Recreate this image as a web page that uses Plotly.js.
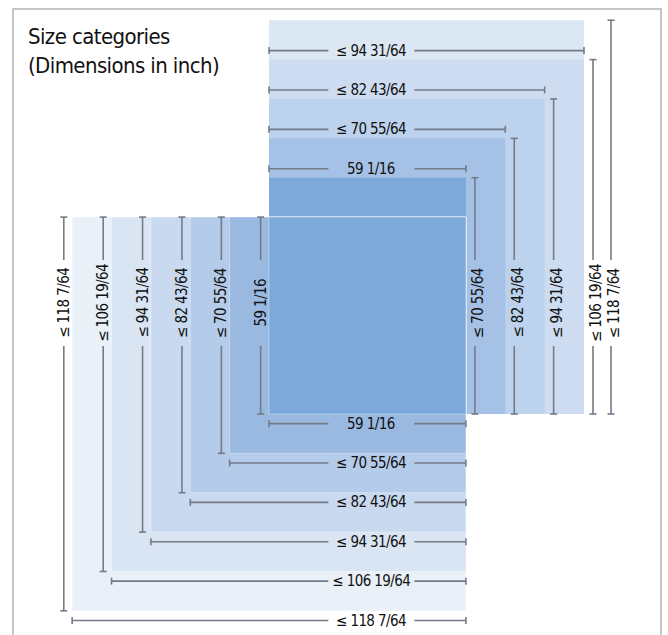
<!DOCTYPE html>
<html><head><meta charset="utf-8">
<script src="https://cdn.plot.ly/plotly-3.0.1.min.js"></script>
<style>
html,body{margin:0;padding:0;background:#fff}
#chart{width:668px;height:635px}
#chart text{font-stretch:condensed !important; letter-spacing:-0.6px;}
</style>
</head><body><div id="chart"></div>
<script>
// Size categories (inches)
const sizeLabels = ["59 1/16", "≤ 70 55/64", "≤ 82 43/64", "≤ 94 31/64", "≤ 106 19/64", "≤ 118 7/64"];
const sizeValues = [59.0625, 70.859375, 82.671875, 94.484375, 106.296875, 118.109375];
// Upper-right group: rectangles (width category index, height category index)
const upperWidthIdx = [0, 1, 2, 3, 3];
const upperHeightIdx = [1, 2, 3, 4, 5];
// Lower-left group: squares (category index)
const lowerSquareIdx = [0, 1, 2, 3, 4, 5];

const upperColors = ["#7eaada", "#a5c2e6", "#bdd2ec", "#cddcf0", "#dce7f4"];
const lowerColors = ["#7da9da", "#99b9e1", "#b4cbe9", "#c9d9ef", "#dae5f3", "#e9f0f8"];

const S = 3.334, OX = 269, OY = 414, W = 668, H = 635;
const xRange = [-OX / S, (W - OX) / S];
const yRange = [-(H - OY) / S, OY / S];
const A = sizeValues[0];           // shared corner of both groups
const HC = 30.7, VC = 33.3, HALF = 12.9, OFF = 2.7;
const FONT = "DejaVu Sans Condensed, Liberation Sans Narrow, DejaVu Sans, sans-serif";
const LINE = "#737b88";

const shapes = [];
// frame
shapes.push({type: "rect", xref: "paper", yref: "paper", x0: 13 / W, x1: 661 / W, y0: -0.05, y1: 1 - 9 / H,
  line: {color: "#c6c6c6", width: 2}, fillcolor: "rgba(0,0,0,0)", layer: "below"});
// upper group, largest first
for (let i = upperWidthIdx.length - 1; i >= 0; i--) {
  shapes.push({type: "rect", xref: "x", yref: "y", x0: 0, y0: 0,
    x1: sizeValues[upperWidthIdx[i]], y1: sizeValues[upperHeightIdx[i]],
    fillcolor: upperColors[i], line: {width: 0}, layer: "below"});
}
// lower group, largest first
for (let i = lowerSquareIdx.length - 1; i >= 0; i--) {
  const s = sizeValues[lowerSquareIdx[i]];
  shapes.push({type: "rect", xref: "x", yref: "y", x0: A - s, y0: A - s, x1: A, y1: A,
    fillcolor: lowerColors[i], line: {width: 1, color: "rgba(255,255,255,0.35)"}, layer: "below"});
}

const hx = [], hy = [], vx = [], vy = [];
const hEndX = [], hEndY = [], vEndX = [], vEndY = [];
const annotations = [];
const labelFont = {family: FONT, size: 15, color: "#111"};
function hDim(x0, x1, y, label) {
  const g0 = HC - HALF, g1 = HC + HALF;
  if (x0 < g0) { hx.push(x0, g0, null); hy.push(y, y, null); }
  hx.push(Math.max(g1, x0), x1, null); hy.push(y, y, null);
  hEndX.push(x0, x1); hEndY.push(y, y);
  annotations.push({xref: "x", yref: "y", x: HC, y: y, text: label, showarrow: false,
    xanchor: "center", yanchor: "middle", font: labelFont});
}
function vDim(x, y0, y1, label, dx) {
  const g0 = VC - HALF, g1 = VC + HALF;
  if (y0 < g0) { vx.push(x, x, null); vy.push(y0, g0, null); }
  vx.push(x, x, null); vy.push(g1, y1, null);
  vEndX.push(x, x); vEndY.push(y0, y1);
  annotations.push({xref: "x", yref: "y", x: x + dx, y: VC, text: label, showarrow: false, textangle: -90,
    xanchor: "center", yanchor: "middle", font: labelFont});
}
// upper group dimensions
let prevW = null, prevX = null;
for (let i = 0; i < upperWidthIdx.length; i++) {
  const w = sizeValues[upperWidthIdx[i]], h = sizeValues[upperHeightIdx[i]];
  let x;
  if (w !== prevW) {
    hDim(0, w, h + OFF, sizeLabels[upperWidthIdx[i]]);
    x = w + OFF;
  } else {
    x = prevX + 5.4;
  }
  vDim(x, 0, h, sizeLabels[upperHeightIdx[i]], 1.0);
  prevW = w; prevX = x;
}
// lower group dimensions
for (let i = 0; i < lowerSquareIdx.length; i++) {
  const s = sizeValues[lowerSquareIdx[i]];
  vDim(A - s - 2.5, A - s, A, sizeLabels[lowerSquareIdx[i]], 0);
  hDim(A - s, A, A - s - 2.9, sizeLabels[lowerSquareIdx[i]]);
}

annotations.push({xref: "paper", yref: "paper", x: 26 / W, y: 1 - 22 / H, xanchor: "left", yanchor: "top",
  align: "left", showarrow: false, text: "Size categories<br>(Dimensions in inch)",
  font: {family: FONT, size: 22, color: "#111"}});

const traces = [
  {x: hx, y: hy, mode: "lines", line: {color: LINE, width: 1.6}, hoverinfo: "skip"},
  {x: vx, y: vy, mode: "lines", line: {color: LINE, width: 1.6}, hoverinfo: "skip"},
  {x: hEndX, y: hEndY, mode: "markers", marker: {symbol: "line-ns", size: 5, line: {color: LINE, width: 1.6}}, hoverinfo: "skip"},
  {x: vEndX, y: vEndY, mode: "markers", marker: {symbol: "line-ew", size: 5, line: {color: LINE, width: 1.6}}, hoverinfo: "skip"}
];

const layout = {
  width: W, height: H, margin: {l: 0, r: 0, t: 0, b: 0},
  paper_bgcolor: "#fff", plot_bgcolor: "#fff", showlegend: false,
  xaxis: {range: xRange, visible: false, fixedrange: true},
  yaxis: {range: yRange, visible: false, fixedrange: true},
  shapes: shapes, annotations: annotations, hovermode: false
};
Plotly.newPlot("chart", traces, layout, {staticPlot: true, displayModeBar: false});
</script></body></html>
